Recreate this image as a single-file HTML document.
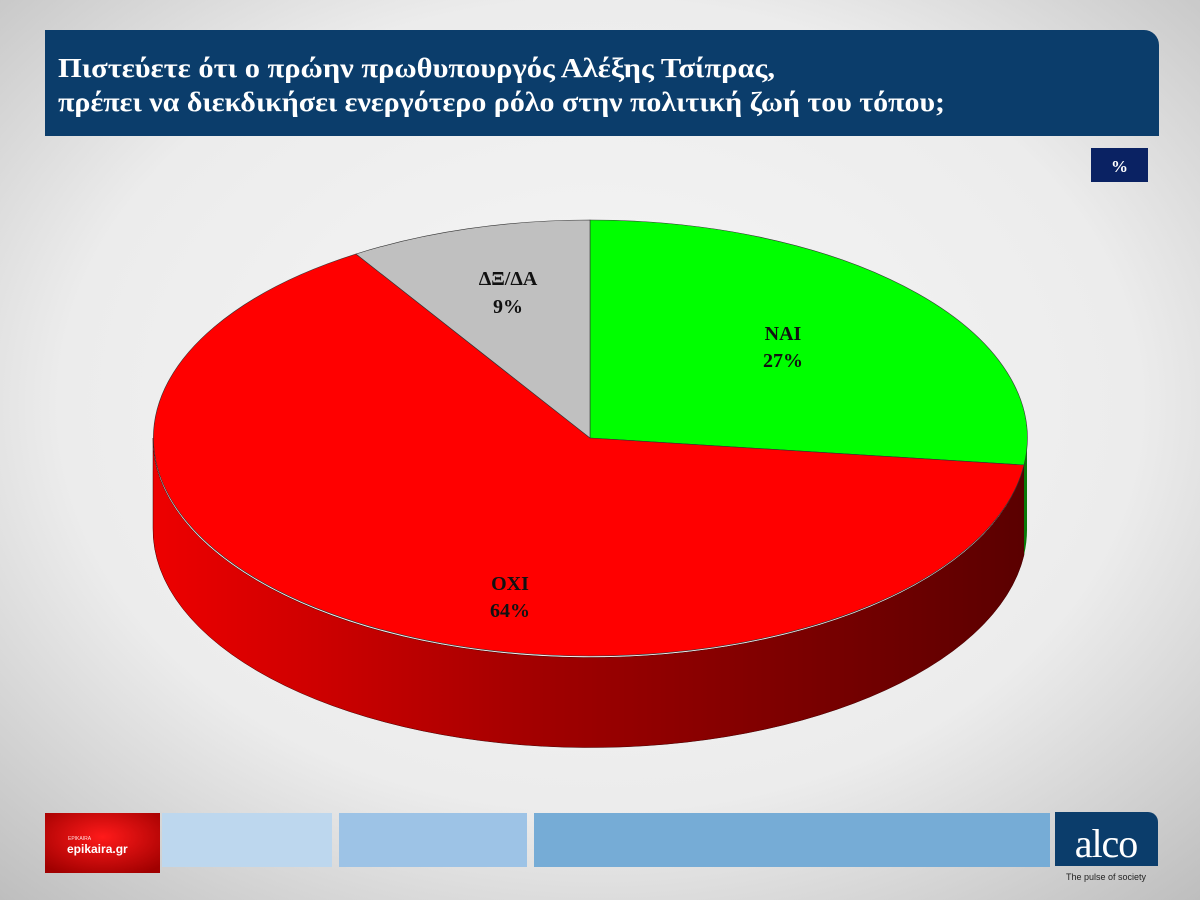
<!DOCTYPE html>
<html><head><meta charset="utf-8"><style>
body{margin:0;width:1200px;height:900px;overflow:hidden;font-family:"Liberation Serif",serif;}
</style></head><body>
<svg width="1200" height="900" viewBox="0 0 1200 900" xmlns="http://www.w3.org/2000/svg">
<defs>
<radialGradient id="bg" cx="50%" cy="45%" r="75%">
<stop offset="0" stop-color="#f6f6f6"/><stop offset="0.6" stop-color="#ececec"/><stop offset="1" stop-color="#bdbdbd"/>
</radialGradient>
<linearGradient id="side" x1="153" y1="0" x2="1027" y2="0" gradientUnits="userSpaceOnUse">
<stop offset="0" stop-color="#ee0000"/><stop offset="0.45" stop-color="#a00000"/><stop offset="1" stop-color="#5a0000"/>
</linearGradient>
<radialGradient id="logo" cx="50%" cy="40%" r="70%">
<stop offset="0" stop-color="#ff1a1a"/><stop offset="1" stop-color="#a00000"/>
</radialGradient>
</defs>
<rect width="1200" height="900" fill="url(#bg)"/>
<path d="M45 30 H1144 A15 15 0 0 1 1159 45 V136 H45 Z" fill="#0b3d6b"/>
<text x="58" y="77" fill="#fff" font-size="27" font-weight="bold" textLength="717" lengthAdjust="spacingAndGlyphs">Πιστεύετε ότι ο πρώην πρωθυπουργός Αλέξης Τσίπρας,</text>
<text x="58" y="111" fill="#fff" font-size="27" font-weight="bold" textLength="887" lengthAdjust="spacingAndGlyphs">πρέπει να διεκδικήσει ενεργότερο ρόλο στην πολιτική ζωή του τόπου;</text>
<rect x="1091" y="148" width="57" height="34" fill="#0a2263"/>
<text x="1119.5" y="172" fill="#fff" font-size="17" font-weight="bold" text-anchor="middle">%</text>

<path d="M1024 465 A437 218 0 0 1 153 438 L153 528 A437 218 0 0 0 1024 555 Z" fill="url(#side)" stroke="#400" stroke-width="0.5"/>
<path d="M1027 438 A437 218 0 0 1 1024 465 L1024 555 A437 218 0 0 0 1027 528 Z" fill="#0a7a0a"/>
<path d="M590 438 L590 220 A437 218 0 0 1 1024 465 Z" fill="#00ff00" stroke="#333" stroke-width="0.6"/>
<path d="M590 438 L1024 465 A437 218 0 1 1 356 254 Z" fill="#ff0000" stroke="#333" stroke-width="0.6"/>
<path d="M590 438 L356 254 A437 218 0 0 1 590 220 Z" fill="#c0c0c0" stroke="#333" stroke-width="0.6"/>

<g font-size="20" font-weight="bold" fill="#111" text-anchor="middle">
<text x="783" y="340">NAI</text><text x="783" y="367">27%</text>
<text x="508" y="285">ΔΞ/ΔΑ</text><text x="508" y="313">9%</text>
<text x="510" y="590">OXI</text><text x="510" y="617">64%</text>
</g>

<rect x="45" y="813" width="115" height="60" fill="url(#logo)"/>
<text x="68" y="840" fill="#fdd" font-size="5" font-family="Liberation Sans,sans-serif">EPIKAIRA</text>
<text x="67" y="853" fill="#fff" font-size="12" font-weight="bold" font-family="Liberation Sans,sans-serif">epikaira.gr</text>
<rect x="162" y="813" width="170" height="54" fill="#bdd7ee"/>
<rect x="339" y="813" width="188" height="54" fill="#9dc3e6"/>
<rect x="534" y="813" width="516" height="54" fill="#76acd6"/>
<path d="M1055 812 H1148 A10 10 0 0 1 1158 822 V866 H1055 Z" fill="#0b3d6b"/>
<text x="1106" y="857" fill="#fff" font-size="40" text-anchor="middle" letter-spacing="-1">alco</text>
<text x="1106" y="880" fill="#222" font-size="9" text-anchor="middle" font-family="Liberation Sans,sans-serif">The pulse of society</text>
</svg>
</body></html>
